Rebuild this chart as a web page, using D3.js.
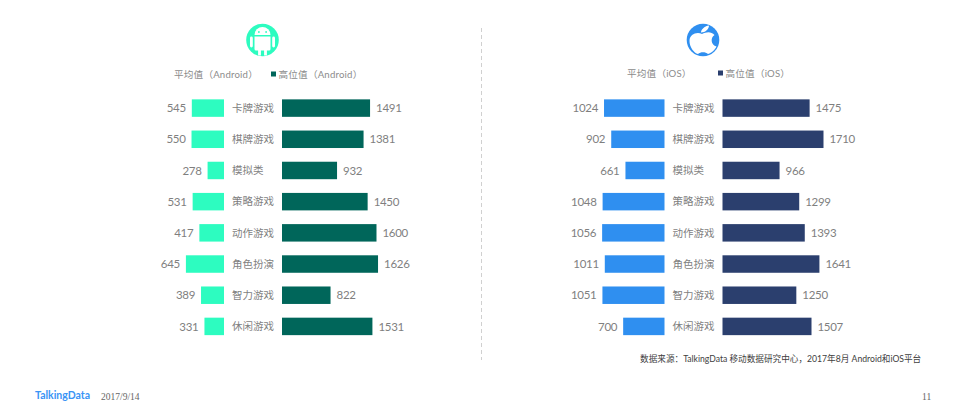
<!DOCTYPE html>
<html>
<head>
<meta charset="utf-8">
<script src="https://cdn.jsdelivr.net/npm/d3@7"></script>
<style>
  html, body { margin: 0; padding: 0; background: #fff; }
  text { font-family: "Lato", "Noto Sans CJK SC", sans-serif; }
  .cjk { font-family: "Noto Sans CJK SC", sans-serif; }
</style>
</head>
<body>
<div id="chart"></div>
<script>
var categories = ["卡牌游戏", "棋牌游戏", "模拟类", "策略游戏", "动作游戏", "角色扮演", "智力游戏", "休闲游戏"];

var androidAvg = [545, 550, 278, 531, 417, 645, 389, 331];
var androidHigh = [1491, 1381, 932, 1450, 1600, 1626, 822, 1531];
var iosAvg = [1024, 902, 661, 1048, 1056, 1011, 1051, 700];
var iosHigh = [1475, 1710, 966, 1299, 1393, 1641, 1250, 1507];

var svgWidth = 965;
var svgHeight = 420;

var svg = d3.select("#chart")
  .append("svg")
  .attr("width", svgWidth)
  .attr("height", svgHeight)
  .style("display", "block");

// shared scales, one band per category
var yScale = d3.scaleBand()
  .domain(categories)
  .range([92.5, 342])
  .paddingInner(0.44)
  .paddingOuter(0.22);

var wScale = d3.scaleLinear().domain([0, 1700]).range([0, 100.4]);

// draw one mirrored panel
function drawPanel(avg, high, opts) {
  var g = svg.append("g");

  g.selectAll(".avgBar")
    .data(avg)
    .enter()
    .append("rect")
    .attr("x", d => opts.leftEdge - wScale(d))
    .attr("y", (d, i) => yScale(categories[i]))
    .attr("width", d => wScale(d))
    .attr("height", yScale.bandwidth())
    .attr("fill", opts.avgColor);

  g.selectAll(".highBar")
    .data(high)
    .enter()
    .append("rect")
    .attr("x", opts.rightEdge)
    .attr("y", (d, i) => yScale(categories[i]))
    .attr("width", d => wScale(d))
    .attr("height", yScale.bandwidth())
    .attr("fill", opts.highColor);

  g.selectAll(".avgLabel")
    .data(avg)
    .enter()
    .append("text")
    .attr("x", d => opts.leftEdge - wScale(d) - 6)
    .attr("y", (d, i) => yScale(categories[i]) + yScale.bandwidth() / 2)
    .attr("dy", "0.36em")
    .attr("text-anchor", "end")
    .attr("font-size", 11.5)
    .attr("letter-spacing", -0.3)
    .attr("fill", "#7f7f7f")
    .text(d => d);

  g.selectAll(".highLabel")
    .data(high)
    .enter()
    .append("text")
    .attr("x", d => opts.rightEdge + wScale(d) + 6)
    .attr("y", (d, i) => yScale(categories[i]) + yScale.bandwidth() / 2)
    .attr("dy", "0.36em")
    .attr("font-size", 11.5)
    .attr("letter-spacing", -0.3)
    .attr("fill", "#7f7f7f")
    .text(d => d);

  // category names start at the same x, 模拟类 is not centred
  g.selectAll(".catLabel")
    .data(categories)
    .enter()
    .append("text")
    .attr("class", "cjk")
    .attr("x", opts.leftEdge + 8)
    .attr("y", d => yScale(d) + yScale.bandwidth() / 2)
    .attr("dy", "0.36em")
    .attr("font-size", 10.5)
    .attr("fill", "#7f7f7f")
    .text(d => d);

  // legend
  g.append("text")
    .attr("x", opts.legendAvgX)
    .attr("y", opts.legendY)
    .attr("font-size", 9.6)
    .attr("letter-spacing", 0.2)
    .attr("fill", "#8c8c8c")
    .text(opts.avgName);

  g.append("rect")
    .attr("x", opts.swatchX)
    .attr("y", opts.legendY - 6.5)
    .attr("width", 5)
    .attr("height", 5)
    .attr("fill", opts.highColor);

  g.append("text")
    .attr("x", opts.swatchX + 7.5)
    .attr("y", opts.legendY)
    .attr("font-size", 9.6)
    .attr("letter-spacing", 0.2)
    .attr("fill", "#8c8c8c")
    .text(opts.highName);
}

drawPanel(androidAvg, androidHigh, {
  leftEdge: 224, rightEdge: 282,
  avgColor: "#2dfcc0", highColor: "#00665a",
  avgName: "平均值（Android）", highName: "高位值（Android）",
  legendAvgX: 174, swatchX: 271, legendY: 78
});

drawPanel(iosAvg, iosHigh, {
  leftEdge: 664.5, rightEdge: 722.5,
  avgColor: "#2f8ff0", highColor: "#2b3f6e",
  avgName: "平均值（iOS）", highName: "高位值（iOS）",
  legendAvgX: 627, swatchX: 718, legendY: 77
});

// divider
svg.append("line")
  .attr("x1", 481.5).attr("x2", 481.5)
  .attr("y1", 28).attr("y2", 360)
  .attr("stroke", "#d0d0d0")
  .attr("stroke-width", 1)
  .attr("stroke-dasharray", "4,3");

// android icon
var android = svg.append("g").attr("transform", "translate(262.5, 40)");
android.append("circle").attr("r", 16.3).attr("fill", "#2dfcc0");
android.append("path")
  .attr("d", "M-8,-5 A8,8 0 0 1 8,-5 Z")
  .attr("fill", "#fff");
android.append("path")
  .attr("d", "M-8,-3.5 H8 V9 Q8,10.5 6.5,10.5 H4.4 V15.5 H1.6 V10.5 H-1.6 V15.5 H-4.4 V10.5 H-6.5 Q-8,10.5 -8,9 Z")
  .attr("fill", "#fff");
android.append("rect").attr("x", -12.5).attr("y", -3.5).attr("width", 2.8).attr("height", 11).attr("rx", 1.4).attr("fill", "#fff");
android.append("rect").attr("x", 9.7).attr("y", -3.5).attr("width", 2.8).attr("height", 11).attr("rx", 1.4).attr("fill", "#fff");
android.append("circle").attr("cx", -3.6).attr("cy", -8).attr("r", 0.9).attr("fill", "#2dfcc0");
android.append("circle").attr("cx", 3.6).attr("cy", -8).attr("r", 0.9).attr("fill", "#2dfcc0");

// apple icon
var apple = svg.append("g").attr("transform", "translate(703, 40)");
apple.append("circle").attr("r", 16.3).attr("fill", "#2f8ff0");
apple.append("path")
  .attr("d", "M-1,-6 C-6,-8.5 -13.5,-6 -13.5,1 C-13.5,7 -9,13 -5,14 C-2.5,11.5 2.5,11.5 5,14 C9,13 12,9.5 13.5,6.5 C8,5 7,-2 11.5,-5 C8,-9 3,-8 -1,-6 Z")
  .attr("fill", "#fff");
apple.append("path")
  .attr("d", "M-2,-7.5 C-2,-11 2,-14 6,-14.5 C6,-11 2.5,-7.5 -2,-7.5 Z")
  .attr("fill", "#fff");

// source and footer
svg.append("text")
  .attr("x", 640).attr("y", 361.5)
  .attr("font-size", 8.65)
  .attr("fill", "#404040")
  .text("数据来源：TalkingData 移动数据研究中心，2017年8月 Android和iOS平台");

svg.append("text")
  .attr("x", 35).attr("y", 399)
  .attr("font-size", 10.5)
  .attr("font-weight", 700)
  .attr("fill", "#3a94f5")
  .text("TalkingData");

svg.append("text")
  .attr("x", 101).attr("y", 399.5)
  .style("font-family", "'Liberation Serif', serif")
  .attr("font-size", 9.5)
  .attr("fill", "#666")
  .text("2017/9/14");

svg.append("text")
  .attr("x", 922).attr("y", 399.5)
  .style("font-family", "'Liberation Serif', serif")
  .attr("font-size", 9.5)
  .attr("fill", "#666")
  .text("11");
</script>
</body>
</html>
